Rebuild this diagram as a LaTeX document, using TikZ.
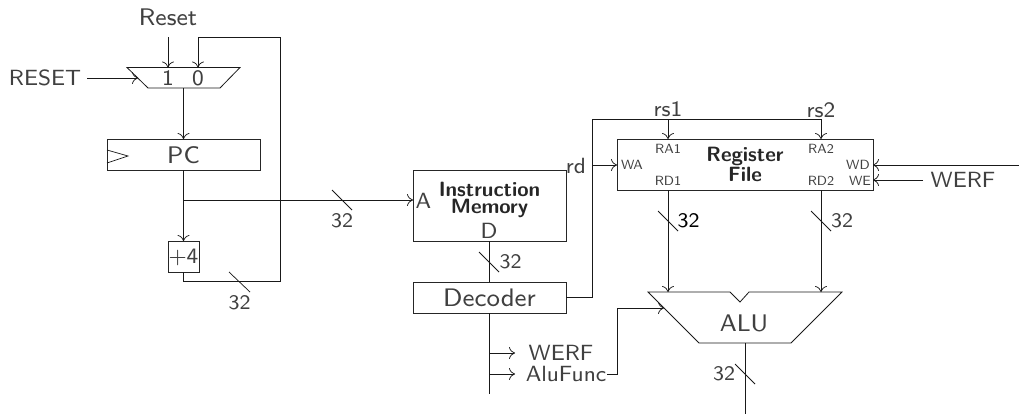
\documentclass[tikz,border=0pt]{standalone}
\usepackage{fontspec}
\setsansfont{lmsans8-regular.otf}[BoldFont=lmsans10-bold.otf]
\usetikzlibrary{arrows.meta}
\newcommand{\fsz}[1]{\fontsize{#1}{#1}\selectfont\sffamily}
\tikzset{
  x=0.75pt,y=-0.75pt,
  wire/.style={line width=0.6pt,black!90},
  arw/.style={wire,-{Computer Modern Rightarrow[width=9pt,length=4.5pt,line width=0.55pt]}},
  tick/.style={line width=0.55pt,black!90},
  blk/.style={draw=black!85,line width=0.6pt,rectangle,inner sep=0pt,outer sep=0pt,fill=none},
  lab/.style={inner sep=0pt,outer sep=0pt,text=black!75,font=\fsz{16.5}},
  num/.style={lab,font=\fsz{15.5}},
  big/.style={lab,font=\fsz{18}},
  tiny/.style={lab,font=\fsz{10}},
  bold/.style={lab,align=center,text=black!85,font=\fsz{15.5}\bfseries},
}
\begin{document}
\begin{tikzpicture}
\useasboundingbox (0,0) rectangle (1019,414);
% blocks
\node[blk,minimum width=114.75pt,minimum height=23.25pt] (pc) at (183.5,154.5) {};
\node[blk,minimum width=23.25pt,minimum height=23.25pt] (plus) at (183.5,256.5) {};
\node[blk,minimum width=114.75pt,minimum height=53.25pt] (imem) at (489.5,205.5) {};
\node[blk,minimum width=114.75pt,minimum height=23.25pt] (dec) at (489.5,297.5) {};
\node[blk,minimum width=192pt,minimum height=38.25pt] (rf) at (745,164.5) {};
% mux
\coordinate (muxTL) at (127,67.5); \coordinate (muxTR) at (240,67.5);
\coordinate (muxBR) at (220,88); \coordinate (muxBL) at (148,88);
\draw[wire] (muxTL) -- (muxTR) -- (muxBR) -- (muxBL) -- cycle;
\coordinate (mux1) at (168,67.5); \coordinate (mux0) at (198,67.5);
\coordinate (muxOut) at (183.5,88); \coordinate (muxL) at (138,78);
% clock mark
\draw[tick] (pc.west |- 0,150) -- (128,156) -- (pc.west |- 0,163);
% ALU
\coordinate (aluA) at (648,292); \coordinate (aluB) at (842,292);
\coordinate (aluOut) at (745,343); \coordinate (aluF) at (664,308);
\draw[wire] (aluA) -- (730,292) -- (740,302) -- (749,292) -- (aluB) -- (791,343) -- (699,343) -- cycle;
% text labels
\node[big] (tReset) at (168,17) {Reset};
\node[lab] (tRESET) at (45,78) {RESET};
\node[lab] (t1) at (168,78) {1};
\node[lab] (t0) at (198,78) {0};
\node[big] (tPC) at (183.5,155) {PC};
\node[lab] (t4) at (183.5,257) {+4};
\node[bold] (tIM) at (489.5,200) {Instruction\\[-3pt]Memory};
\node[lab] (tA) at (423.5,201) {A};
\node[lab] (tD) at (489,231) {D};
\node[big,font=\fsz{19}] (tDec) at (489.5,298) {Decoder};
\node[lab] (trd) at (576,166) {rd};
\node[lab] (trs1) at (668,109) {rs1};
\node[lab] (trs2) at (821,110) {rs2};
\node[bold] (tRF) at (745,164.5) {Register\\[0pt]File};
\node[tiny] (tWA) at (632,165) {WA};
\node[tiny] (tRA1) at (668,149) {RA1};
\node[tiny] (tRD1) at (668,181) {RD1};
\node[tiny] (tRA2) at (821,149) {RA2};
\node[tiny] (tRD2) at (821,181) {RD2};
\node[tiny] (tWD) at (858,165) {WD};
\node[tiny] (tWE) at (860,181) {WE};
\node[lab] (tWERF) at (963,180) {WERF};
\node[lab] (tWERFb) at (561,353) {WERF};
\node[lab] (tAlu) at (566,374) {AluFunc};
\node[big] (tALU) at (744,323) {ALU};
\node[num] (n1) at (342,221) {32};
\node[num] (n2) at (239.5,303) {32};
\node[num] (n3) at (510.5,262) {32};
\node[num,text=black] (n4) at (688.5,221) {32};
\node[num] (n5) at (842,221) {32};
\node[num] (n6) at (724,374) {32};
% free ends and junctions
\coordinate (rT) at (168,37);
\coordinate (loopA) at (198,37); \coordinate (loopB) at (280,37);
\coordinate (loopC) at (280,281); \coordinate (loopD) at (183.5,281);
\coordinate (j1) at (183.5,200);
\coordinate (rdA) at (592,297.5); \coordinate (rdB) at (592,119);
\coordinate (rdC) at (821,119); \coordinate (rdJ) at (668,119);
\coordinate (rdW) at (592,165);
\coordinate (ra1) at (668,139); \coordinate (ra2) at (821,139);
\coordinate (rd1) at (668,190); \coordinate (rd2) at (821,190);
\coordinate (a1) at (668,292); \coordinate (a2) at (821,292);
\coordinate (wdEnd) at (1019,165); \coordinate (wd) at (873,165); \coordinate (we) at (873,180);
\coordinate (wfS) at (923,180);
\coordinate (d1) at (489.5,353); \coordinate (d2) at (489.5,374); \coordinate (dEnd) at (489.5,394);
\coordinate (d1e) at (515,353); \coordinate (d2e) at (515,374);
\coordinate (afA) at (607,374); \coordinate (afB) at (617,374); \coordinate (afC) at (617,308);
\coordinate (aluEnd) at (745,414);
\coordinate (wa) at (617,165);
\coordinate (imA) at (413,200);
\coordinate (rsL) at (87,78);
% connectors
\draw[arw] (rT) -- (mux1);
\draw[arw] (loopB) -- (loopA) -- (mux0);
\draw[arw] (rsL) -- (muxL);
\draw[arw] (muxOut) -- (pc.north);
\draw[arw] (pc.south) -- (plus.north);
\draw[wire] (plus.south) -- (loopD) -- (loopC) -- (loopB);
\draw[arw] (j1) -- (imA);
\draw[wire] (imem.south) -- (dec.north);
\draw[wire] (dec.east) -- (rdA) -- (rdB) -- (rdC);
\draw[arw] (rdW) -- (wa);
\draw[arw] (rdJ) -- (ra1);
\draw[arw] (rdC) -- (ra2);
\draw[arw] (rd1) -- (a1);
\draw[arw] (rd2) -- (a2);
\draw[arw] (wdEnd) -- (wd);
\draw[arw] (wfS) -- (we);
\draw[wire] (dec.south) -- (dEnd);
\draw[arw] (d1) -- (d1e);
\draw[arw] (d2) -- (d2e);
\draw[arw] (afA) -- (afB) -- (afC) -- (aluF);
\draw[wire] (aluOut) -- (aluEnd);
% bus ticks
\draw[tick] (332,190) -- (352,210);
\draw[tick] (229,272) -- (250,292);
\draw[tick] (479,252) -- (499,272);
\draw[tick] (658,211) -- (678,231);
\draw[tick] (811,211) -- (831,231);
\draw[tick] (735,364) -- (755,384);
\end{tikzpicture}
\end{document}
